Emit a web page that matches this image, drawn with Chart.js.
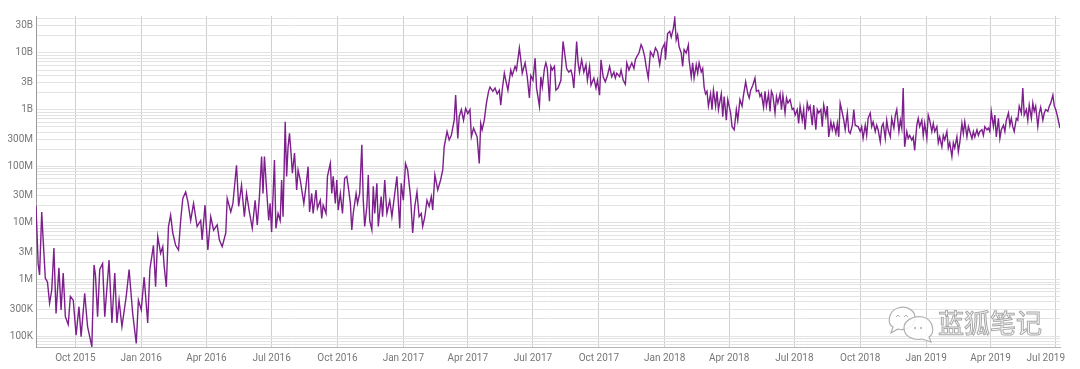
<!DOCTYPE html>
<html><head><meta charset="utf-8">
<script src="https://cdn.jsdelivr.net/npm/chart.js@4.4.1/dist/chart.umd.min.js"></script>
<style>
html,body{margin:0;padding:0;background:#fff;}
#wrap{position:relative;width:1080px;height:369px;overflow:hidden;}
#wmIcon{position:absolute;left:885px;top:303px;}
#wmText{position:absolute;left:938px;top:308px;font-family:"Noto Sans CJK SC",sans-serif;font-size:26px;line-height:28px;color:rgba(255,255,255,0.85);-webkit-text-stroke:1px #a8a8a8;white-space:nowrap;}
</style></head><body>
<div id="wrap">
<canvas id="c" width="1080" height="369"></canvas>
<svg id="wmIcon" width="52" height="42" viewBox="0 0 52 42">
 <g fill="rgba(255,255,255,0.85)" stroke="#b0b0b0" stroke-width="1.2">
  <path d="M8,24 C2,21 3,8 13,5 C22,2 31,8 30,16 C29,24 20,28 13,26 L6,30 Z"/>
  <path d="M44,34 C50,30 49,17 38,14 C28,12 19,18 19,25 C19,33 28,38 37,36 L46,39 Z"/>
 </g>
 <g fill="none" stroke="#b0b0b0" stroke-width="1">
  <path d="M11,14 l2,-2 l2,2 M19,14 l2,-2 l2,2"/>
 </g>
 <g fill="#b0b0b0"><circle cx="30" cy="25" r="1.1"/><circle cx="36" cy="25" r="1.1"/></g>
</svg>
<div id="wmText">蓝狐笔记</div>
</div>
<script>
const dates = [
'2015-08-07','2015-08-10','2015-08-12','2015-08-15','2015-08-17','2015-08-20','2015-08-23','2015-08-26','2015-08-29','2015-09-01',
'2015-09-04','2015-09-08','2015-09-11','2015-09-14','2015-09-17','2015-09-21','2015-09-24','2015-09-28','2015-10-02','2015-10-06',
'2015-10-09','2015-10-14','2015-10-18','2015-10-24','2015-10-27','2015-10-29','2015-11-01','2015-11-04','2015-11-08','2015-11-11',
'2015-11-17','2015-11-21','2015-11-25','2015-11-28','2015-12-01','2015-12-05','2015-12-11','2015-12-15','2015-12-20','2015-12-25',
'2015-12-28','2016-01-01','2016-01-05','2016-01-10','2016-01-13','2016-01-18','2016-01-21','2016-01-24','2016-01-28','2016-01-31',
'2016-02-02','2016-02-05','2016-02-08','2016-02-11','2016-02-14','2016-02-18','2016-02-22','2016-02-25','2016-02-28','2016-03-03',
'2016-03-06','2016-03-10','2016-03-14','2016-03-19','2016-03-24','2016-03-26','2016-03-30','2016-04-03','2016-04-07','2016-04-11',
'2016-04-16','2016-04-19','2016-04-23','2016-04-28','2016-04-30','2016-05-05','2016-05-08','2016-05-13','2016-05-16','2016-05-20',
'2016-05-24','2016-05-27','2016-05-31','2016-06-04','2016-06-08','2016-06-11','2016-06-14','2016-06-17','2016-06-19','2016-06-21',
'2016-06-25','2016-06-27','2016-06-29','2016-07-01','2016-07-05','2016-07-07','2016-07-10','2016-07-13','2016-07-15','2016-07-17',
'2016-07-20','2016-07-22','2016-07-24','2016-07-26','2016-07-28','2016-07-30','2016-08-02','2016-08-05','2016-08-07','2016-08-10',
'2016-08-15','2016-08-18','2016-08-21','2016-08-23','2016-08-26','2016-08-28','2016-09-01','2016-09-03','2016-09-07','2016-09-09',
'2016-09-11','2016-09-15','2016-09-17','2016-09-21','2016-09-23','2016-09-25','2016-09-28','2016-09-30','2016-10-02','2016-10-05',
'2016-10-08','2016-10-11','2016-10-14','2016-10-16','2016-10-19','2016-10-21','2016-10-23','2016-10-27','2016-10-29','2016-11-01',
'2016-11-04','2016-11-06','2016-11-08','2016-11-11','2016-11-13','2016-11-15','2016-11-18','2016-11-20','2016-11-22','2016-11-25',
'2016-11-27','2016-12-01','2016-12-03','2016-12-06','2016-12-09','2016-12-13','2016-12-16','2016-12-20','2016-12-23','2016-12-27',
'2016-12-29','2017-01-01','2017-01-04','2017-01-07','2017-01-11','2017-01-14','2017-01-17','2017-01-20','2017-01-23','2017-01-26',
'2017-01-28','2017-01-31','2017-02-03','2017-02-06','2017-02-09','2017-02-11','2017-02-14','2017-02-18','2017-02-22','2017-02-25',
'2017-02-27','2017-03-03','2017-03-06','2017-03-09','2017-03-13','2017-03-15','2017-03-18','2017-03-20','2017-03-23','2017-03-26',
'2017-03-29','2017-04-01','2017-04-04','2017-04-06','2017-04-09','2017-04-12','2017-04-14','2017-04-17','2017-04-19','2017-04-21',
'2017-04-24','2017-04-27','2017-04-30','2017-05-02','2017-05-06','2017-05-09','2017-05-12','2017-05-15','2017-05-17','2017-05-19',
'2017-05-22','2017-05-24','2017-05-27','2017-05-31','2017-06-02','2017-06-06','2017-06-08','2017-06-12','2017-06-14','2017-06-16',
'2017-06-20','2017-06-23','2017-06-26','2017-06-28','2017-07-01','2017-07-04','2017-07-06','2017-07-10','2017-07-12','2017-07-14',
'2017-07-17','2017-07-19','2017-07-21','2017-07-24','2017-07-26','2017-07-28','2017-07-31','2017-08-02','2017-08-05','2017-08-09',
'2017-08-12','2017-08-14','2017-08-17','2017-08-20','2017-08-23','2017-08-25','2017-08-27','2017-08-31','2017-09-02','2017-09-04',
'2017-09-07','2017-09-10','2017-09-13','2017-09-15','2017-09-18','2017-09-20','2017-09-24','2017-09-27','2017-09-29','2017-10-02',
'2017-10-04','2017-10-07','2017-10-10','2017-10-13','2017-10-16','2017-10-19','2017-10-22','2017-10-24','2017-10-26','2017-10-30',
'2017-11-01','2017-11-04','2017-11-07','2017-11-09','2017-11-12','2017-11-14','2017-11-16','2017-11-19','2017-11-21','2017-11-23',
'2017-11-26','2017-11-29','2017-12-01','2017-12-04','2017-12-06','2017-12-09','2017-12-12','2017-12-16','2017-12-19','2017-12-22',
'2017-12-25','2017-12-28','2018-01-01','2018-01-02','2018-01-05','2018-01-08','2018-01-10','2018-01-13','2018-01-15','2018-01-17',
'2018-01-19','2018-01-21','2018-01-24','2018-01-26','2018-01-28','2018-01-31','2018-02-03','2018-02-04','2018-02-07','2018-02-09',
'2018-02-11','2018-02-14','2018-02-16','2018-02-18','2018-02-21','2018-02-23','2018-02-25','2018-02-27','2018-03-01','2018-03-03',
'2018-03-06','2018-03-08','2018-03-10','2018-03-13','2018-03-15','2018-03-17','2018-03-21','2018-03-23','2018-03-25','2018-03-28',
'2018-03-30','2018-04-03','2018-04-05','2018-04-08','2018-04-11','2018-04-13','2018-04-16','2018-04-19','2018-04-21','2018-04-24',
'2018-04-27','2018-04-29','2018-05-01','2018-05-04','2018-05-07','2018-05-09','2018-05-12','2018-05-14','2018-05-16','2018-05-19',
'2018-05-21','2018-05-23','2018-05-26','2018-05-28','2018-05-30','2018-06-01','2018-06-04','2018-06-06','2018-06-08','2018-06-11',
'2018-06-13','2018-06-15','2018-06-18','2018-06-20','2018-06-22','2018-06-25','2018-06-28','2018-06-30','2018-07-02','2018-07-05',
'2018-07-07','2018-07-09','2018-07-12','2018-07-14','2018-07-16','2018-07-19','2018-07-21','2018-07-23','2018-07-26','2018-07-28',
'2018-07-31','2018-08-02','2018-08-04','2018-08-07','2018-08-09','2018-08-11','2018-08-14','2018-08-16','2018-08-18','2018-08-21',
'2018-08-23','2018-08-25','2018-08-28','2018-08-30','2018-09-01','2018-09-03','2018-09-06','2018-09-08','2018-09-10','2018-09-13',
'2018-09-15','2018-09-17','2018-09-20','2018-09-22','2018-09-24','2018-09-28','2018-10-01','2018-10-03','2018-10-05','2018-10-08',
'2018-10-10','2018-10-12','2018-10-15','2018-10-17','2018-10-19','2018-10-22','2018-10-24','2018-10-26','2018-10-29','2018-10-31',
'2018-11-02','2018-11-05','2018-11-07','2018-11-09','2018-11-12','2018-11-14','2018-11-17','2018-11-19','2018-11-21','2018-11-24',
'2018-11-26','2018-11-28','2018-11-30','2018-12-02','2018-12-05','2018-12-07','2018-12-09','2018-12-12','2018-12-14','2018-12-16',
'2018-12-19','2018-12-21','2018-12-23','2018-12-26','2018-12-28','2018-12-30','2019-01-02','2019-01-04','2019-01-06','2019-01-09',
'2019-01-11','2019-01-13','2019-01-16','2019-01-18','2019-01-20','2019-01-23','2019-01-25','2019-01-27','2019-01-30','2019-02-01',
'2019-02-03','2019-02-06','2019-02-08','2019-02-10','2019-02-13','2019-02-15','2019-02-17','2019-02-20','2019-02-22','2019-02-24',
'2019-02-27','2019-03-01','2019-03-03','2019-03-06','2019-03-08','2019-03-10','2019-03-13','2019-03-15','2019-03-17','2019-03-20',
'2019-03-22','2019-03-24','2019-03-27','2019-03-29','2019-03-31','2019-04-02','2019-04-05','2019-04-07','2019-04-09','2019-04-12',
'2019-04-14','2019-04-16','2019-04-19','2019-04-21','2019-04-23','2019-04-26','2019-04-28','2019-04-30','2019-05-02','2019-05-04',
'2019-05-07','2019-05-09','2019-05-11','2019-05-14','2019-05-16','2019-05-18','2019-05-21','2019-05-23','2019-05-25','2019-05-28',
'2019-05-30','2019-06-01','2019-06-03','2019-06-06','2019-06-08','2019-06-10','2019-06-13','2019-06-15','2019-06-17','2019-06-20',
'2019-06-22','2019-06-24','2019-06-27','2019-06-29','2019-07-01','2019-07-03','2019-07-05','2019-07-07'
];
const values = [
2.0e7,1.9e6,1.2e6,1.55e7,5.0e6,1.05e6,9.0e5,3.8e5,6.5e5,3.6e6,
2.5e5,1.6e6,2.9e5,1.3e6,2.2e5,1.6e5,5.0e5,4.3e5,1.04e5,3.3e5,
9.7e4,5.7e5,1.46e5,6.5e4,1.8e6,1.2e6,2.2e5,1.5e6,1.9e6,2.2e5,
2.2e6,1.7e5,1.3e6,1.7e5,4.3e5,1.46e5,5.0e5,1.5e6,2.5e5,7.4e4,
4.3e5,2.9e5,1.1e6,1.7e5,1.5e6,4.0e6,7.4e5,5.7e6,2.9e6,3.8e6,
1.7e6,7.4e5,8.6e6,1.37e7,6.6e6,4.0e6,3.3e6,1.1e7,2.7e7,3.5e7,
2.4e7,1.1e7,2.2e7,8.6e6,1.1e7,5.0e6,2.05e7,3.3e6,1.28e7,7.4e6,
9.2e6,5.0e6,3.8e6,6.6e6,2.7e7,1.55e7,2.2e7,1.04e8,1.95e7,4.6e7,
1.28e7,3.3e7,1.55e7,8.0e6,2.5e7,9.2e6,2.9e7,1.48e8,3.3e7,1.48e8,
2.5e7,1.1e7,2.2e7,6.9e6,1.28e8,8.0e6,1.46e7,1.1e7,5.7e7,1.28e7,
6.1e8,6.6e7,2.2e8,3.8e8,1.8e8,7.5e7,1.7e8,3.8e7,8.6e7,5.7e7,
2.2e7,4.4e7,9.8e7,1.55e7,3.3e7,1.46e7,3.8e7,1.8e7,2.5e7,1.2e7,
2.05e7,1.46e7,6.6e7,1.12e8,3.3e7,6.6e7,2.2e7,5.7e7,1.68e7,3.3e7,
1.46e7,6.1e7,6.6e7,4.4e7,2.2e7,7.5e6,1.46e7,3.3e7,2.2e7,3.3e7,
2.4e8,2.5e7,8.6e6,1.95e7,7.0e7,1.1e7,7.5e6,4.4e7,1.46e7,5.0e7,
8.6e6,2.9e7,1.28e7,5.7e7,1.46e7,2.5e7,1.28e7,3.3e7,6.6e7,8.0e6,
5.0e7,2.5e7,1.12e8,8.6e7,2.9e7,6.6e6,1.95e7,3.5e7,1.28e7,1.46e7,
8.6e6,1.28e7,2.5e7,1.95e7,2.9e7,1.68e7,7.0e7,3.8e7,5.7e7,8.6e7,
2.2e8,4.1e8,2.9e8,3.5e8,6.5e8,1.8e9,3.1e8,7.5e8,1.0e9,6.5e8,
1.05e9,8.5e8,1.0e9,3.3e8,4.7e8,3.8e8,3.3e8,1.12e8,5.7e8,4.4e8,
6.5e8,1.3e9,2.1e9,2.5e9,2.1e9,2.4e9,1.9e9,2.2e9,1.2e9,2.2e9,
4.4e9,3.3e9,2.2e9,5.0e9,4.0e9,5.8e9,5.0e9,1.23e10,7.6e9,4.4e9,
6.7e9,3.8e9,1.6e9,4.0e9,3.3e9,8.1e9,2.4e9,1.15e9,3.8e9,2.5e9,
5.3e9,6.7e9,5.3e9,1.4e9,5.8e9,5.0e9,5.8e9,2.2e9,2.4e9,3.3e9,
1.6e10,1.05e10,5.3e9,4.6e9,5.0e9,4.0e9,2.4e9,1.6e10,6.7e9,4.6e9,
7.6e9,4.6e9,6.2e9,3.3e9,5.8e9,2.7e9,3.6e9,2.4e9,3.3e9,1.8e9,
7.6e9,3.8e9,3.1e9,4.0e9,5.8e9,3.8e9,4.6e9,3.6e9,4.4e9,3.8e9,
5.0e9,3.3e9,2.8e9,6.7e9,5.0e9,5.8e9,6.7e9,5.3e9,7.6e9,8.6e9,
1.0e10,1.4e10,1.23e10,8.6e9,5.8e9,3.6e9,1.05e10,8.6e9,1.23e10,1.05e10,
6.2e9,1.15e10,1.48e10,7.6e9,2.2e10,2.4e10,1.9e10,2.7e10,4.1e10,1.7e10,
2.1e10,1.3e10,1.0e10,5.8e9,1.15e10,1.0e10,1.38e10,7.6e9,3.8e9,6.7e9,
3.6e9,6.2e9,4.4e9,6.7e9,4.6e9,5.3e9,2.5e9,1.9e9,2.1e9,1.15e9,
1.9e9,1.0e9,2.2e9,1.15e9,2.1e9,1.0e9,1.9e9,7.5e8,1.7e9,6.5e8,
1.5e9,8.7e8,5.0e8,4.4e8,1.0e9,6.5e8,1.5e9,1.15e9,1.8e9,3.1e9,
1.9e9,1.6e9,2.2e9,2.7e9,3.6e9,2.1e9,2.2e9,1.7e9,1.9e9,1.1e9,
2.1e9,1.15e9,1.9e9,9.3e8,2.1e9,1.8e9,8.7e8,1.7e9,1.3e9,1.9e9,
1.0e9,1.8e9,8.7e8,1.6e9,1.3e9,1.5e9,1.0e9,1.05e9,8.0e8,1.0e9,
5.7e8,1.15e9,6.5e8,1.0e9,4.4e8,1.3e9,1.0e9,1.15e9,5.3e8,1.2e9,
4.4e8,1.0e9,8.7e8,1.0e9,5.0e8,1.2e9,7.5e8,1.15e9,3.3e8,6.1e8,
4.4e8,5.7e8,3.8e8,5.7e8,3.3e8,1.3e9,8.7e8,6.5e8,4.4e8,8.7e8,
4.1e8,3.8e8,5.3e8,1.0e9,5.3e8,5.0e8,4.1e8,5.0e8,3.1e8,5.3e8,
3.5e8,7.0e8,8.7e8,5.0e8,6.1e8,4.1e8,5.3e8,4.4e8,2.7e8,5.0e8,
5.7e8,3.1e8,6.5e8,4.4e8,3.3e8,7.0e8,4.7e8,8.0e8,1.0e9,4.1e8,
6.5e8,4.7e8,2.4e9,2.2e8,4.1e8,3.1e8,3.5e8,2.9e8,3.3e8,1.9e8,
5.3e8,7.0e8,5.0e8,6.5e8,3.5e8,5.7e8,3.1e8,8.0e8,6.5e8,4.1e8,
5.7e8,4.1e8,5.0e8,2.6e8,3.3e8,2.2e8,3.5e8,2.9e8,4.1e8,2.1e8,
2.6e8,1.48e8,2.6e8,2.1e8,3.3e8,1.8e8,2.6e8,5.7e8,3.8e8,6.1e8,
3.3e8,5.0e8,4.1e8,3.1e8,4.1e8,3.3e8,4.4e8,3.5e8,4.1e8,4.4e8,
3.5e8,5.0e8,4.4e8,4.7e8,4.1e8,9.3e8,5.0e8,8.0e8,3.3e8,7.0e8,
3.1e8,4.4e8,5.3e8,4.1e8,6.5e8,8.7e8,5.3e8,7.0e8,5.0e8,4.1e8,
7.0e8,6.5e8,1.15e9,8.7e8,2.4e9,8.0e8,1.0e9,6.5e8,1.2e9,7.0e8,
1.3e9,9.3e8,1.15e9,5.0e8,8.7e8,1.1e9,6.5e8,8.7e8,1.0e9,9.3e8,
1.15e9,1.3e9,1.8e9,1.15e9,1.0e9,8.0e8,6.1e8,4.7e8
];
const xTickDates = ['2015-10-01','2016-01-01','2016-04-01','2016-07-01','2016-10-01','2017-01-01','2017-04-01','2017-07-01','2017-10-01','2018-01-01','2018-04-01','2018-07-01','2018-10-01','2019-01-01','2019-04-01','2019-07-01'];
const xTickLabels = ['Oct 2015','Jan 2016','Apr 2016','Jul 2016','Oct 2016','Jan 2017','Apr 2017','Jul 2017','Oct 2017','Jan 2018','Apr 2018','Jul 2018','Oct 2018','Jan 2019','Apr 2019','Jul 2019'];
const yTickValues = [1e5,3e5,1e6,3e6,1e7,3e7,1e8,3e8,1e9,3e9,1e10,3e10];
const yTickLabels = ['100K','300K','1M','3M','10M','30M','100M','300M','1B','3B','10B','30B'];
const yMin = 64000, yMax = 4.5e10;

const DAY = 86400000;
function toDay(s){ const p = s.split('-').map(Number); return Date.UTC(p[0], p[1]-1, p[2]) / DAY; }
const n = Math.min(dates.length, values.length);
const points = [];
for (let i = 0; i < n; i++) points.push({x: toDay(dates[i]), y: values[i]});
const xTicks = xTickDates.map(toDay);

const labelColor = '#777777';
const tickFont = {family: 'Roboto', size: 10};

const lastLabelFix = {
  id: 'lastLabelFix',
  beforeDraw(chart) {
    const s = chart.scales.x;
    if (!s || !s.getLabelItems) return;
    const items = s.getLabelItems();
    if (!items || !items.length) return;
    const it = items[items.length - 1];
    if (it && it.options && it.options.translation) {
      it.options.textAlign = 'right';
      it.options.translation[0] = chart.chartArea.right + 5;
    }
  }
};

new Chart(document.getElementById('c'), {
  type: 'line',
  data: {
    datasets: [{
      data: points,
      borderColor: '#7d1f8c',
      borderWidth: 1.4,
      pointRadius: 0,
      tension: 0,
      fill: false
    }]
  },
  options: {
    responsive: false,
    animation: false,
    devicePixelRatio: 1,
    layout: {padding: {top: 16, right: 14, left: 0, bottom: 0}},
    plugins: {legend: {display: false}, tooltip: {enabled: false}},
    scales: {
      x: {
        type: 'linear',
        min: points[0].x,
        max: points[points.length - 1].x,
        afterBuildTicks(scale) { scale.ticks = xTicks.map(v => ({value: v})); },
        afterFit(scale) { scale.height = 22; },
        ticks: {
          autoSkip: false, maxRotation: 0, minRotation: 0, padding: 5,
          color: labelColor, font: tickFont,
          callback(v) { const i = xTicks.indexOf(v); return i >= 0 ? xTickLabels[i] : ''; }
        },
        grid: {color: '#cfcfcf', drawTicks: false, lineWidth: 1},
        border: {display: true, color: '#b5b5b5', width: 1}
      },
      y: {
        type: 'logarithmic',
        min: yMin,
        max: yMax,
        afterBuildTicks(scale) {
          const t = [];
          for (let e = 4; e <= 10; e++) {
            for (let m = 1; m <= 9; m++) {
              const v = m * Math.pow(10, e);
              if (v >= yMin && v <= yMax) t.push({value: v});
            }
          }
          scale.ticks = t;
        },
        afterFit(scale) { scale.width = 36; },
        ticks: {
          autoSkip: false, padding: 3, color: labelColor, font: tickFont,
          callback(v) {
            const i = yTickValues.findIndex(t => Math.abs(t - v) / t < 1e-6);
            return i >= 0 ? yTickLabels[i] : '';
          }
        },
        grid: {color: '#e3e3e3', drawTicks: false, lineWidth: 1},
        border: {display: true, color: '#9a9a9a', width: 1}
      }
    }
  },
  plugins: [lastLabelFix]
});
</script>
</body></html>
